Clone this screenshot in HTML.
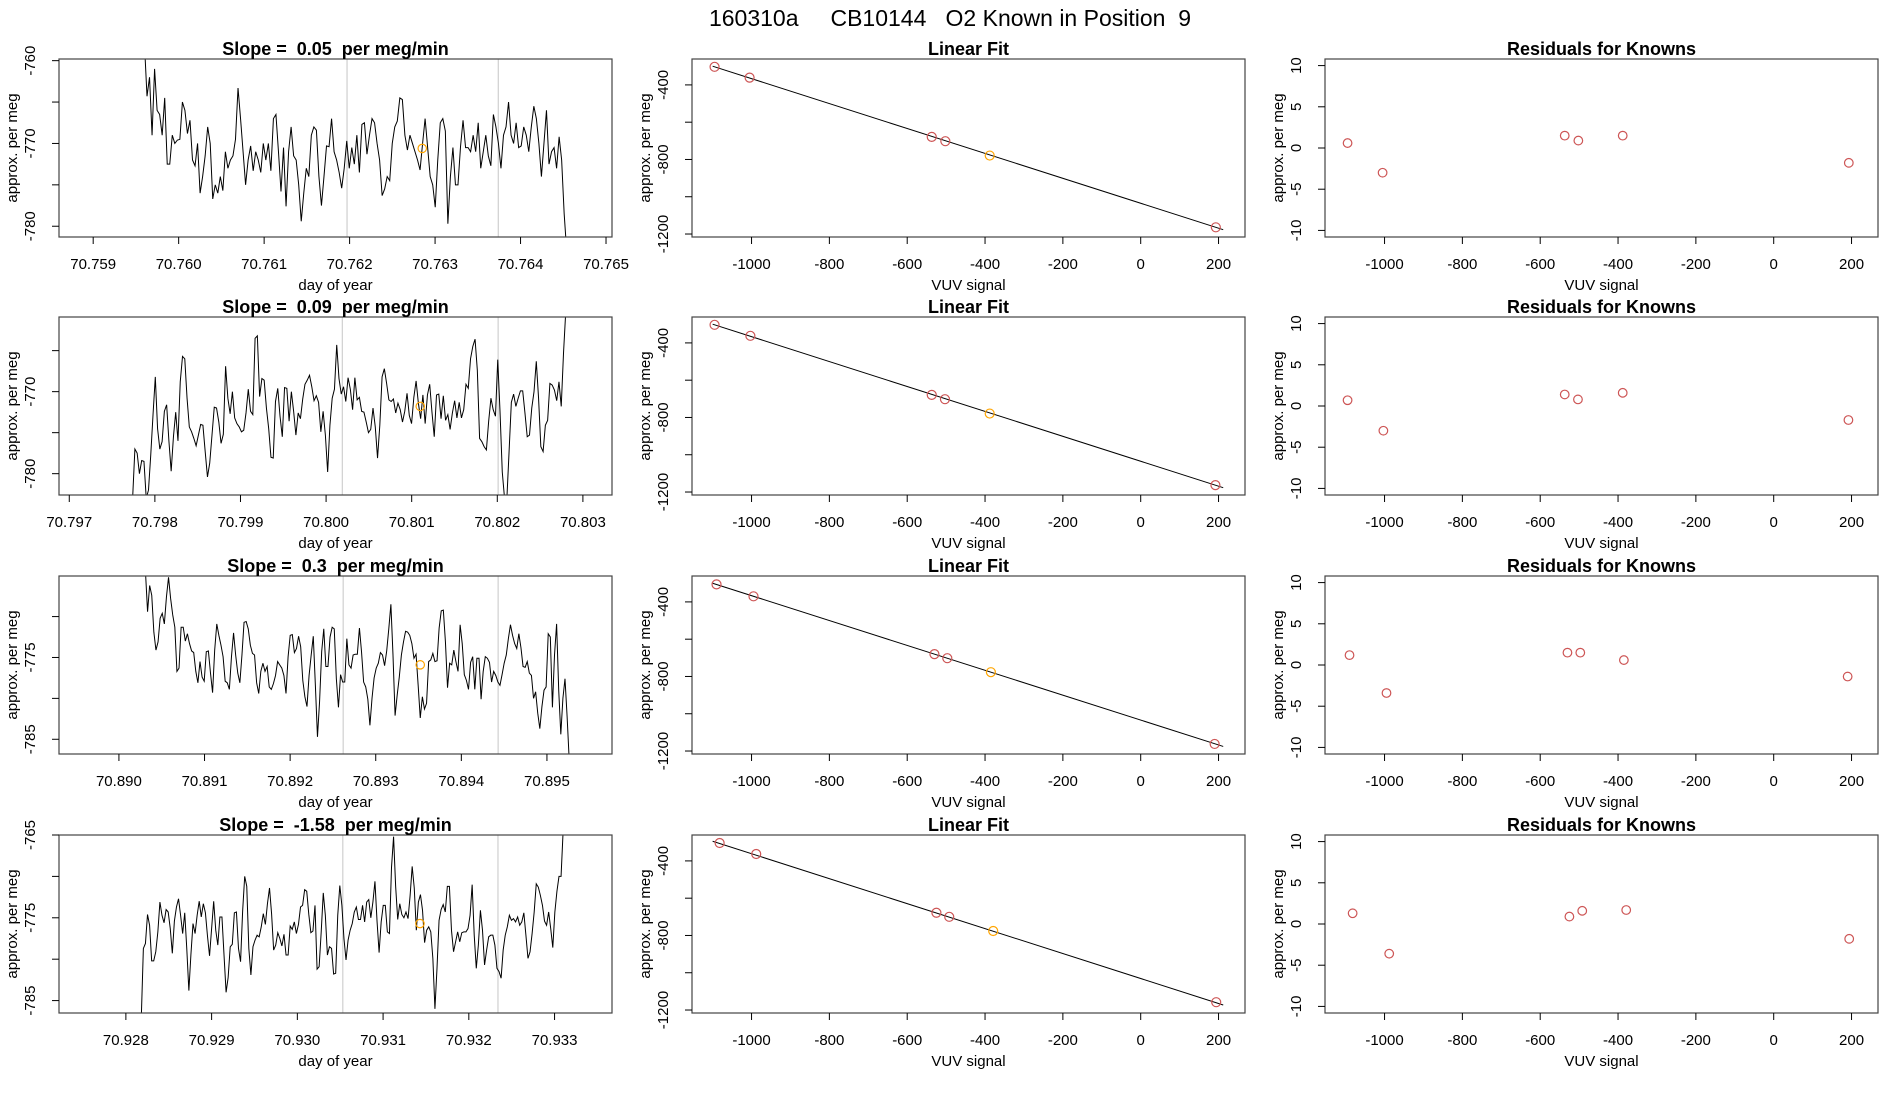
<!DOCTYPE html>
<html><head><meta charset="utf-8"><title>160310a CB10144 O2 Known in Position 9</title>
<style>
html,body{margin:0;padding:0;background:#fff;}
svg{display:block;font-family:"Liberation Sans",Arial,sans-serif;}
text{white-space:pre;}
</style></head>
<body>
<svg id="fig" xmlns="http://www.w3.org/2000/svg" width="1900" height="1100" viewBox="0 0 1900 1100">
<rect x="0" y="0" width="1900" height="1100" fill="#fff"/>
<text x="950" y="26" font-size="23" text-anchor="middle" fill="#000">160310a     CB10144   O2 Known in Position  9</text>
</svg>
<script>
// ---------------- DATA ----------------
const slopeLabels = ["0.05", "0.09", "0.3", "-1.58"];
const tStart = [70.75960, 70.79774, 70.89031, 70.92818];
const tEnd   = [70.76454, 70.80280, 70.89526, 70.93310];
const xLimTs = [[70.7586, 70.76507], [70.79688, 70.80334], [70.88930, 70.89576], [70.92722, 70.93367]];
const yLimTs = [[-781.3, -759.8], [-782.6, -760.9], [-786.8, -765.04], [-786.5, -765.0]];
const xTicksTs = [
  ["70.759","70.760","70.761","70.762","70.763","70.764","70.765"],
  ["70.797","70.798","70.799","70.800","70.801","70.802","70.803"],
  ["70.890","70.891","70.892","70.893","70.894","70.895"],
  ["70.928","70.929","70.930","70.931","70.932","70.933"]
];
const yTicksTs = [[-780,-775,-770,-765,-760],[-780,-775,-770,-765],[-785,-780,-775,-770],[-785,-780,-775,-770,-765]];
const yLabelsTs = [[-780,-770,-760],[-780,-770],[-785,-775],[-785,-775,-765]];
const vLines = [[70.76197, 70.76374],[70.80019, 70.80201],[70.89262, 70.89443],[70.93053, 70.93234]];
const markT = [70.76285, 70.80110, 70.89352, 70.93143];
const markV = [-770.6, -771.8, -775.9, -775.7];

const series1 = [-758,-764.3,-762,-769,-761,-766,-766.5,-769,-764.5,-772.5,-772.5,-769,-770,-769.6,-769.5,-765,-766,-768.8,-767.2,-772,-772.7,-770,-776,-774,-771.5,-768,-770,-776.7,-775,-776,-774,-775.7,-771,-773,-772,-771.5,-769.5,-763.3,-767,-771,-775,-772,-770.3,-773.3,-771,-772,-773.5,-770,-772,-770,-773.3,-767,-766.5,-771,-775.8,-770.5,-777.6,-771,-768,-771.5,-772,-775,-779.4,-776,-773,-774,-769,-768,-768.4,-774,-777.5,-774,-770.3,-770.4,-767,-771,-772,-773.5,-775.4,-773,-769.7,-773,-770.5,-772.5,-769,-773.5,-767.7,-767.5,-771.3,-769,-767,-767.5,-770,-772,-776.3,-775.5,-774,-774.5,-770,-768,-767.3,-764.5,-764.7,-769,-770.8,-769,-770,-771,-772,-773.2,-770,-767,-770.5,-774,-775,-777.7,-772,-767.5,-767,-768.5,-779.7,-774,-770.5,-775,-775,-770.4,-767.2,-770.5,-770.5,-771,-769,-771,-767.5,-773,-771,-769,-771.5,-772.7,-766.5,-768,-770,-773,-769,-768,-765,-769,-770,-767.5,-770.5,-770.3,-768,-769,-771,-768,-765.5,-767,-770,-774,-770,-766,-772.5,-771,-770.5,-773,-769.2,-772,-778.5,-783];
const series2 = [-783,-777,-777.5,-780,-778.4,-778.5,-783,-782,-777.7,-772.8,-768.2,-774.5,-777,-776.1,-772.4,-771.6,-776,-779.7,-775.5,-772.5,-776,-768.8,-765.7,-766,-770.8,-774.3,-774.9,-775.7,-776.6,-775.3,-774,-774.1,-777.3,-780.4,-778.7,-775.3,-771.9,-772,-773.7,-776.3,-775.2,-766.9,-770.8,-772.7,-770,-773.2,-773.9,-774.3,-774.9,-774.7,-772.6,-769.7,-772.4,-772.8,-763.5,-763.2,-770.6,-768.4,-768.6,-772,-774.5,-778,-778.1,-771.2,-769.6,-773,-775.5,-769.5,-769.6,-773.6,-770,-772.4,-775.3,-772.6,-773.3,-770.9,-769.1,-768.6,-768,-769.4,-771.1,-770.5,-771.3,-774.9,-772.4,-775.3,-779.8,-774.1,-770.8,-769.7,-764.3,-768.4,-770.3,-769.4,-771.2,-768.3,-769.7,-772.2,-768.3,-771,-770.7,-772.4,-772.5,-773.7,-775,-774.6,-772,-774.3,-778.1,-774.1,-768.2,-767.2,-769,-771,-771.2,-770.9,-772.6,-771.4,-772.2,-773.7,-772.4,-770.2,-772.9,-773.9,-770.7,-768.7,-771.4,-773.3,-770.4,-773.9,-770.4,-769.1,-772.5,-775.5,-770.4,-770.3,-773.3,-770.5,-773.5,-772.8,-774.6,-772.6,-771.1,-773.2,-771.3,-773.2,-772.2,-769.1,-769.6,-766,-764.5,-763.6,-767.4,-775.7,-776.1,-776.7,-777.1,-773.6,-770.8,-772.2,-773,-766.1,-772.4,-779.8,-783,-783.2,-777.3,-771.3,-770.3,-771.8,-770.8,-769.9,-769.9,-772.6,-775.5,-775.3,-772,-770,-766.3,-770.8,-776.7,-777.3,-774.1,-773.5,-769,-769.2,-769.8,-771.1,-768.8,-771.8,-765.3,-760.2];
const series3 = [-764.5,-769.4,-766.2,-767.4,-771.9,-774.1,-773.1,-770.2,-769.6,-770.9,-767.6,-765.2,-767.8,-769.8,-771.3,-776.7,-776.3,-771.3,-771.3,-773,-772.1,-773.3,-774.2,-774.4,-776.7,-778.1,-775.5,-777.4,-777.9,-774.3,-774.2,-776.9,-779.3,-774.1,-770.9,-772.3,-773.5,-774.9,-777.9,-778.1,-778.9,-774.9,-772,-774.7,-776.9,-778.1,-774.7,-770.7,-770.6,-771.5,-773.5,-774.5,-774.7,-778.1,-779.4,-776.7,-775.7,-776.7,-776.1,-778.6,-778.9,-778.2,-777.2,-775.5,-775.9,-776.3,-777.2,-779.4,-774.9,-772.3,-772.2,-774.4,-773.9,-772.4,-773.7,-777.8,-779.8,-781,-777.2,-774.7,-772.4,-778.4,-784.7,-780.4,-774.3,-771.5,-776.1,-776.1,-772.5,-771.3,-771.5,-777.6,-781.1,-777.1,-778,-778,-772.7,-775.9,-776.3,-774.7,-774.6,-774.6,-771.4,-774.3,-778,-778.6,-780.1,-783.3,-780,-777.5,-776.3,-775.7,-774.4,-774.7,-776,-774.2,-771.5,-768.5,-774.7,-782.1,-779.6,-777.4,-774.7,-773.1,-771.8,-771.9,-772.3,-773.3,-775.1,-774.6,-778.4,-782.4,-779.8,-781.3,-780.6,-775.5,-775.3,-774.5,-775.5,-775.4,-771.4,-769.3,-769.2,-773.1,-778.7,-775.7,-775.9,-774.1,-775.5,-776.7,-771,-773.3,-777.1,-777.8,-778.9,-775.6,-774.9,-778.9,-775.1,-775.1,-780.1,-776.7,-774.9,-775.1,-775.6,-778,-776.7,-777.2,-778,-778.4,-777.1,-775.7,-774.7,-772.7,-771,-772.3,-773.3,-773.9,-772.1,-773.8,-776.1,-776.2,-775.5,-776.9,-777.2,-780,-779.2,-781.8,-783.7,-781,-779,-778.6,-772.1,-772.5,-781.1,-774.7,-770.9,-779,-784.4,-780,-777.6,-782.2,-787.5];
const series4 = [-787,-778.7,-778.1,-774.6,-775.9,-780.2,-780.2,-779.1,-776.7,-773.1,-774.7,-775.6,-774,-774.3,-776.3,-779.3,-775.4,-773.7,-772.7,-774.7,-776.9,-774.4,-778.8,-783.8,-779.4,-775.7,-776.9,-774.7,-773,-774.9,-773.3,-774.4,-777.2,-779.6,-776.3,-773,-776.5,-778.3,-774.9,-774.9,-779.5,-784,-782.2,-778.5,-778.2,-774.4,-774.3,-778.7,-780.3,-774.2,-770,-771.2,-778.7,-781.9,-778.5,-777.7,-777.1,-777.3,-776.1,-774.5,-775.8,-773.3,-771.4,-774.5,-778.9,-778.3,-776.8,-777.5,-778.4,-777,-779.5,-779.5,-776,-776.4,-775.5,-776.9,-775.8,-773.7,-773.5,-771.6,-771.8,-774.6,-776.8,-776.6,-773.5,-781.2,-780.9,-776.7,-772,-774.7,-779.5,-778.5,-778.7,-781.8,-781.7,-774.7,-771.1,-773.5,-777.5,-780.1,-777.7,-776.5,-775.7,-774.3,-773.7,-775.2,-775.2,-773.5,-775.5,-773.1,-772.8,-775,-773.1,-770.6,-775.4,-779.2,-775.5,-773.5,-773.5,-776.7,-776.9,-768.9,-765.2,-771.2,-775.2,-773.3,-774.6,-775,-774.3,-775.1,-772.3,-768.8,-771.4,-776.5,-773.1,-772.2,-774.1,-778,-776.5,-776.1,-776.7,-779.9,-786,-781.1,-775.3,-774,-773.4,-774.3,-771.2,-771.2,-776.5,-779.1,-777.9,-776.7,-777.9,-776.8,-776.7,-776.7,-776.3,-774.7,-771,-777.1,-781.1,-778.3,-774.1,-776.5,-780.7,-778.9,-777.3,-777.1,-777.1,-778.3,-781.1,-781.5,-782.3,-778.9,-777.1,-776.1,-774.7,-775.3,-775.1,-775.5,-774.9,-775.9,-775.5,-774.4,-777.1,-779.9,-779.1,-776.9,-774.3,-770.9,-771.3,-772.3,-773.5,-775.4,-775.9,-774.3,-776.3,-778.6,-774.3,-771.8,-770,-770,-764.5];
const seriesAll = [series1, series2, series3, series4];

// Linear fit panels
const vuvX1 = [-1095, -1005, -537, -502, -388, 193];
const vuvX2 = [-1095, -1003, -537, -503, -388, 192];
const vuvX3 = [-1090, -995, -530, -497, -385, 190];
const vuvX4 = [-1082, -988, -525, -492, -379, 194];
const vuvXAll = [vuvX1, vuvX2, vuvX3, vuvX4];
const fitY1 = [-303, -361, -679, -702, -779, -1164];
const fitY2 = [-303, -362, -679, -702, -779, -1163];
const fitY3 = [-306, -370, -680, -702, -777, -1162];
const fitY4 = [-304, -363, -678, -700, -776, -1158];
const fitYAll = [fitY1, fitY2, fitY3, fitY4];
const fitIntercept = [-1035, -1035, -1034, -1031];
const fitSlope = [-0.6685, -0.6685, -0.6675, -0.6696];
const fitLineX = [-1100, 212];
const knownIndex = 4; // orange highlighted point
const xTicksVuv = [-1000, -800, -600, -400, -200, 0, 200];
const yTicksFit = [-1200, -1000, -800, -600, -400];
const yLabelsFit = [-1200, -800, -400];
const xLimVuv = [-1153, 268];
const yLimFit = [-1216, -261];

// Residual panels
const resid1 = [0.6, -3.0, 1.5, 0.9, 1.5, -1.8];
const resid2 = [0.7, -3.0, 1.4, 0.8, 1.6, -1.7];
const resid3 = [1.2, -3.4, 1.5, 1.5, 0.6, -1.4];
const resid4 = [1.3, -3.6, 0.9, 1.6, 1.7, -1.8];
const residAll = [resid1, resid2, resid3, resid4];
const yTicksRes = [-10, -5, 0, 5, 10];
const yLimRes = [-10.8, 10.8];

// ---------------- LAYOUT ----------------
const NS = "http://www.w3.org/2000/svg";
const svg = document.getElementById("fig");
const colX = [59, 692, 1325];
const boxW = 553;
const rowY = [59, 317, 576, 835];
const boxH = 178;
const RED = "#cd5555", ORANGE = "#ffa500";

function mk(tag, attrs, parent) {
  const e = document.createElementNS(NS, tag);
  for (const k in attrs) e.setAttribute(k, attrs[k]);
  (parent || svg).appendChild(e);
  return e;
}
function scale(d0, d1, p0, p1) { return v => p0 + (v - d0) / (d1 - d0) * (p1 - p0); }

function axes(g, bx, by, xs, ys, xt, xtl, yt, ytl, title, xlab, r, c) {
  // title
  const t = mk("text", {x: bx + boxW / 2, y: by - 4, "font-size": 18, "font-weight": "bold", "text-anchor": "middle"}, g);
  t.textContent = title;
  
  
  // x ticks
  xt.forEach((v, i) => {
    const x = xs(v);
    const tk = mk("line", {x1: x, x2: x, y1: by + boxH, y2: by + boxH + 7, stroke: "#000", "stroke-width": 1}, g);
    
    
    const tl = mk("text", {x: x, y: by + boxH + 32, "font-size": 15, "text-anchor": "middle"}, g);
    tl.textContent = xtl[i];
    
    
  });
  const xl = mk("text", {x: bx + boxW / 2, y: by + boxH + 53, "font-size": 15, "text-anchor": "middle"}, g);
  xl.textContent = xlab;
  
  
  // y ticks
  yt.forEach(v => {
    const y = ys(v);
    const tk = mk("line", {x1: bx - 7, x2: bx, y1: y, y2: y, stroke: "#000", "stroke-width": 1}, g);
    
    
  });
  ytl.forEach(v => {
    const y = ys(v);
    const tl = mk("text", {x: 0, y: 0, "font-size": 15, "text-anchor": "middle", transform: "translate(" + (bx - 24) + "," + y + ") rotate(-90)"}, g);
    tl.textContent = String(v);
    
    
  });
  const yl = mk("text", {x: 0, y: 0, "font-size": 15, "text-anchor": "middle", transform: "translate(" + (bx - 42) + "," + (by + boxH / 2) + ") rotate(-90)"}, g);
  yl.textContent = "approx. per meg";
  
  
}
function box(g, bx, by) {
  const b = mk("rect", {x: bx, y: by, width: boxW, height: boxH, fill: "none", stroke: "#444", "stroke-width": 1.2}, g);
  
  
}

for (let r = 0; r < 4; r++) {
  const by = rowY[r];
  // ---- time series ----
  {
    const bx = colX[0];
    const g = mk("g", {});
    
    
    const xs = scale(xLimTs[r][0], xLimTs[r][1], bx, bx + boxW);
    const ys = scale(yLimTs[r][0], yLimTs[r][1], by + boxH, by);
    const cp = mk("clipPath", {id: "clip" + r}, g);
    mk("rect", {x: bx, y: by, width: boxW, height: boxH}, cp);
    vLines[r].forEach(v => {
      const l = mk("line", {x1: xs(v), x2: xs(v), y1: by, y2: by + boxH, stroke: "#d3d3d3", "stroke-width": 1.3}, g);
      
      
    });
    const vals = seriesAll[r];
    const n = vals.length;
    let d = "";
    vals.forEach((v, i) => {
      const t = tStart[r] + (tEnd[r] - tStart[r]) * i / (n - 1);
      d += (i ? "L" : "M") + xs(t).toFixed(2) + "," + ys(v).toFixed(2);
    });
    const p = mk("path", {d: d, fill: "none", stroke: "#000", "stroke-width": 1, "clip-path": "url(#clip" + r + ")"}, g);
    
    
    const m = mk("circle", {cx: xs(markT[r]), cy: ys(markV[r]), r: 4.2, fill: "none", stroke: ORANGE, "stroke-width": 1.2}, g);
    
    
    box(g, bx, by);
    const xtv = xTicksTs[r].map(Number);
    axes(g, bx, by, xs, ys, xtv, xTicksTs[r], yTicksTs[r], yLabelsTs[r], "Slope =  " + slopeLabels[r] + "  per meg/min", "day of year", r, 0);
  }
  // ---- linear fit ----
  {
    const bx = colX[1];
    const g = mk("g", {});
    
    
    const xs = scale(xLimVuv[0], xLimVuv[1], bx, bx + boxW);
    const ys = scale(yLimFit[0], yLimFit[1], by + boxH, by);
    const l = mk("line", {x1: xs(fitLineX[0]), y1: ys(fitIntercept[r] + fitSlope[r] * fitLineX[0]), x2: xs(fitLineX[1]), y2: ys(fitIntercept[r] + fitSlope[r] * fitLineX[1]), stroke: "#000", "stroke-width": 1}, g);
    
    
    vuvXAll[r].forEach((v, i) => {
      const c = mk("circle", {cx: xs(v), cy: ys(fitYAll[r][i]), r: 4.5, fill: "none", stroke: i === knownIndex ? ORANGE : RED, "stroke-width": 1.2}, g);
      
      
    });
    box(g, bx, by);
    axes(g, bx, by, xs, ys, xTicksVuv, xTicksVuv.map(String), yTicksFit, yLabelsFit, "Linear Fit", "VUV signal", r, 1);
  }
  // ---- residuals ----
  {
    const bx = colX[2];
    const g = mk("g", {});
    
    
    const xs = scale(xLimVuv[0], xLimVuv[1], bx, bx + boxW);
    const ys = scale(yLimRes[0], yLimRes[1], by + boxH, by);
    vuvXAll[r].forEach((v, i) => {
      const c = mk("circle", {cx: xs(v), cy: ys(residAll[r][i]), r: 4.3, fill: "none", stroke: RED, "stroke-width": 1.2}, g);
      
      
    });
    box(g, bx, by);
    axes(g, bx, by, xs, ys, xTicksVuv, xTicksVuv.map(String), yTicksRes, yTicksRes, "Residuals for Knowns", "VUV signal", r, 2);
  }
}
</script>
</body></html>
